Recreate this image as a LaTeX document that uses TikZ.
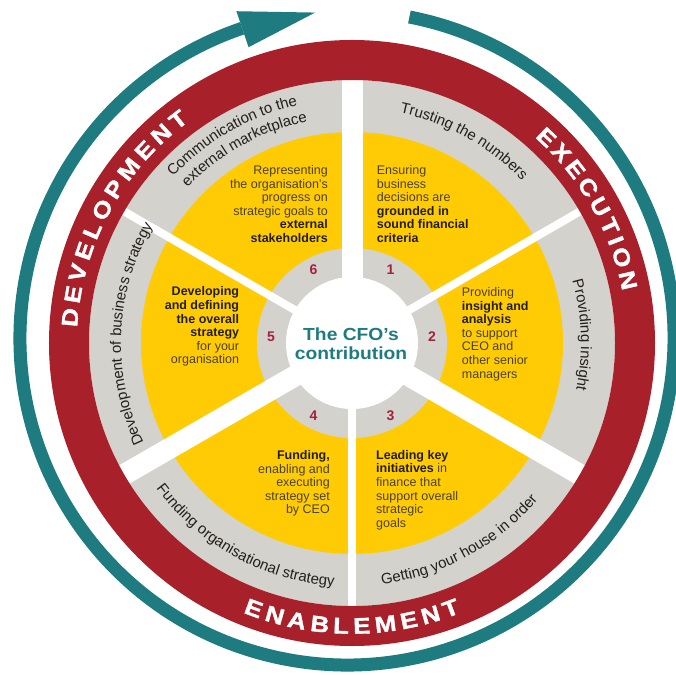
\documentclass[tikz,border=0pt]{standalone}
\usepackage{fontspec}
\setmainfont{Liberation Sans}
\newfontfamily\widefont{Liberation Sans}[FakeStretch=1.15, FakeBold=1.6]
\newfontfamily\hubfont{Liberation Sans}[FakeStretch=1.1]
\usetikzlibrary{decorations.text}

\definecolor{ringred}{HTML}{A8202A}
\definecolor{arrowteal}{HTML}{1E7B80}
\definecolor{sunyellow}{HTML}{FFCB05}
\definecolor{ringgray}{HTML}{D4D2CD}
\definecolor{numred}{HTML}{A3213A}
\definecolor{bodytext}{HTML}{4A4228}
\definecolor{boldtext}{HTML}{221E16}
\definecolor{labeltext}{HTML}{231F1A}

\newcommand\labelfont{\fontsize{15}{15}\selectfont}
\newcommand\kwb[1]{{\color{boldtext}\bfseries #1}}

\tikzset{
  ringletter/.style={text=white, inner sep=0pt,
    font=\widefont\bfseries\fontsize{22.5}{22.5}\selectfont},
  bodyblock/.style={text=bodytext, inner sep=0pt,
    font=\fontsize{12.5}{13.6}\selectfont},
  sectornum/.style={text=numred, inner sep=0pt,
    font=\bfseries\fontsize{14}{14}\selectfont},
  hubtext/.style={text=arrowteal, align=center, inner sep=0pt,
    font=\hubfont\bfseries\fontsize{17.5}{18.7}\selectfont},
  divider/.style={white, line width=#1},
  ringlabel/.style={decorate, decoration={text along path,
    text align=center, text color=labeltext, text={|\labelfont|#1}}}
}

\begin{document}
\begin{tikzpicture}[x=1pt,y=1pt]
\useasboundingbox (-352,-331) rectangle (324,343);
\coordinate (c) at (0,0);

% concentric bands of the wheel
\fill[ringgray] (c) circle[radius=263];
\fill[sunyellow] (c) circle[radius=211];
\fill[ringgray] (c) circle[radius=95];
\fill[white] (c) circle[radius=66];

% white spokes between the six sectors
\foreach \a/\w [count=\i] in {90/21, -30/21, -150/21, 30/8, 150/8, -90/8}{
  \coordinate (spoke\i) at (\a:263);
  \draw[divider=\w] (c) -- (spoke\i);
}

% red outer ring
\fill[ringred, even odd rule] (c) circle[radius=303] (c) circle[radius=263];

% teal cycle arrow
\begin{scope}[shift={(-5,5)}]
  \draw[arrowteal, line width=13] (79:327) arc[start angle=79, end angle=-251.3, radius=327];
  \fill[arrowteal] (108.7:307) -- (108.7:345) -- (95.6:327) -- cycle;
\end{scope}

% ring headings, letter by letter
\foreach \l/\a [count=\i] in {D/174.8, E/170.1, V/165.6, E/161.0, L/156.6, O/151.9,
    P/147.1, M/142.1, E/137.1, N/132.4, T/127.9}
  \node[ringletter, rotate=\a-90] (dev\i) at (\a:283) {\l};
\foreach \l/\a [count=\i] in {E/46.6, X/42.3, E/37.9, C/33.4, U/28.8, T/24.4,
    I/21.2, O/17.6, N/12.8}
  \node[ringletter, rotate=\a-90] (exe\i) at (\a:283) {\l};
\foreach \l/\a [count=\i] in {E/-110.3, N/-105.8, A/-101.2, B/-96.5, L/-92.2,
    E/-88.0, M/-83.2, E/-78.4, N/-73.9, T/-69.6}
  \node[ringletter, rotate=\a+90] (ena\i) at (\a:283) {\l};

% labels in the grey band
\path[ringlabel={Communication to the}] (170:244) arc[start angle=170, end angle=70, radius=244];
\path[ringlabel={external marketplace}] (169:226) arc[start angle=169, end angle=69, radius=226];
\path[ringlabel={Trusting the numbers}] (101:235) arc[start angle=101, end angle=21, radius=235];
\path[ringlabel={Providing insight}] (62:229) arc[start angle=62, end angle=-58, radius=229];
\path[ringlabel={Getting your house in order}] (-111.5:243) arc[start angle=-111.5, end angle=-11.5, radius=243];
\path[ringlabel={Funding organisational strategy}] (-168.8:244) arc[start angle=-168.8, end angle=-68.8, radius=244];
\path[ringlabel={Development of business strategy}] (237.6:231) arc[start angle=237.6, end angle=117.6, radius=231];

% sector descriptions
\node[bodyblock, anchor=east, align=right] (s6) at (-24,139)
  {Representing\\the organisation’s\\progress on\\strategic goals to\\\kwb{external}\\\kwb{stakeholders}};
\node[bodyblock, anchor=west, align=left] (s1) at (24.7,139)
  {Ensuring\\business\\decisions are\\\kwb{grounded in}\\\kwb{sound financial}\\\kwb{criteria}};
\node[bodyblock, anchor=west, align=left] (s2) at (109.7,9)
  {Providing\\\kwb{insight and}\\\kwb{analysis}\\to support\\CEO and\\other senior\\managers};
\node[bodyblock, anchor=west, align=left] (s3) at (24,-147)
  {\kwb{Leading key}\\\kwb{initiatives} in\\finance that\\support overall\\strategic\\goals};
\node[bodyblock, anchor=east, align=right] (s4) at (-22,-140.4)
  {\kwb{Funding,}\\enabling and\\executing\\strategy set\\by CEO};
\node[bodyblock, anchor=east, align=right] (s5) at (-112.7,16.3)
  {\kwb{Developing}\\\kwb{and defining}\\\kwb{the overall}\\\kwb{strategy}\\for your\\organisation};

% sector numbers
\node[sectornum] (n1) at (38.5,73) {1};
\node[sectornum] (n2) at (80,6) {2};
\node[sectornum] (n3) at (38.5,-73) {3};
\node[sectornum] (n4) at (-38.5,-73) {4};
\node[sectornum] (n5) at (-81,6) {5};
\node[sectornum] (n6) at (-38.5,73) {6};

% hub
\node[hubtext] (hub) at (-1,-0.5) {The CFO’s\\contribution};
\end{tikzpicture}
\end{document}
